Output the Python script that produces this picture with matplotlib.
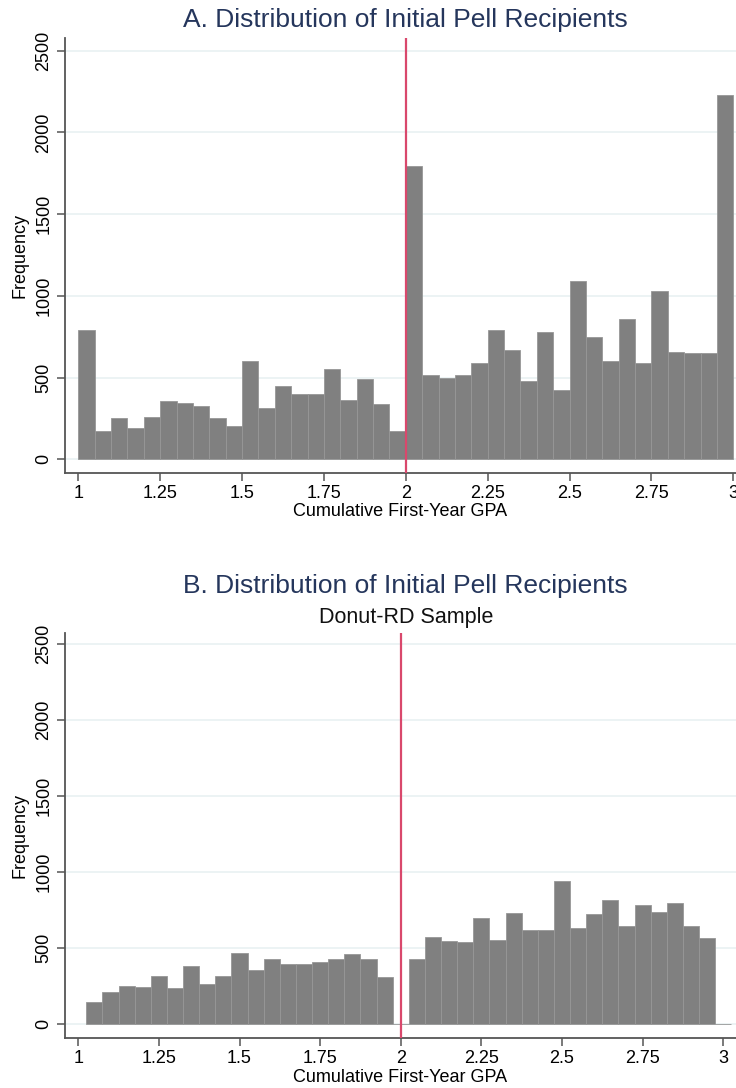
import numpy as np
import matplotlib
matplotlib.use('Agg')
import matplotlib.pyplot as plt

plt.rcParams['font.family'] = ['Liberation Sans', 'DejaVu Sans']

# histogram bins (left edges) and counts
bins_a = np.round(np.arange(1.0, 3.0, 0.05), 3)
freq_a = [792, 175, 251, 194, 261, 357, 347, 324, 251, 202,
          602, 316, 447, 398, 400, 553, 365, 490, 341, 175,
          1795, 516, 500, 516, 588, 792, 669, 481, 781, 424,
          1093, 751, 604, 857, 588, 1030, 659, 653, 653, 2230]

bins_b = np.round(np.arange(1.025, 3.0, 0.05), 3)
freq_b = [145, 215, 252, 243, 320, 241, 384, 268, 320, 469,
          355, 428, 399, 399, 410, 428, 461, 428, 311, 0,
          428, 575, 550, 540, 697, 557, 735, 618, 618, 943,
          636, 724, 820, 645, 785, 741, 796, 645, 566, 0]

bin_width = 0.05
cutoff = 2.0
xticks = [1, 1.25, 1.5, 1.75, 2, 2.25, 2.5, 2.75, 3]
xtick_labels = ['1', '1.25', '1.5', '1.75', '2', '2.25', '2.5', '2.75', '3']
yticks = [0, 500, 1000, 1500, 2000, 2500]

title_a = 'A. Distribution of Initial Pell Recipients'
title_b = 'B. Distribution of Initial Pell Recipients'
subtitle_b = 'Donut-RD Sample'

BAR = '#808080'
BAR_EDGE = '#979797'
RED = '#d9486c'
NAVY = '#25365c'
AXIS = '#555555'
GRID = '#eaf2f3'

W, H = 736, 1088


def draw_hist(ax, bins, freq, xlim, ylim, label_y):
    ax.bar(bins, freq, width=bin_width, align='edge', color=BAR,
           edgecolor=BAR_EDGE, linewidth=0.6, zorder=2)
    ax.axvline(cutoff, color=RED, linewidth=1.6, zorder=3)
    ax.set_xlim(*xlim)
    ax.set_ylim(*ylim)
    ax.set_xticks(xticks)
    ax.set_xticklabels(xtick_labels)
    ax.set_yticks(yticks)
    ax.set_yticklabels([str(v) for v in yticks], rotation=90, va='center')
    ax.grid(axis='y', color=GRID, linewidth=1.3)
    ax.set_axisbelow(True)
    for s in ['top', 'right']:
        ax.spines[s].set_visible(False)
    for s in ['left', 'bottom']:
        ax.spines[s].set_color(AXIS)
        ax.spines[s].set_linewidth(1.3)
    ax.tick_params(direction='out', length=6, width=1.1, color=AXIS,
                   labelsize=13, pad=3)
    ax.set_ylabel('Frequency', fontsize=13, va='center')
    ax.yaxis.set_label_coords(-45 / 671, 0.5)
    ax.set_xlabel('Cumulative First-Year GPA', fontsize=13, va='center')
    ax.xaxis.set_label_coords(0.5, label_y)


fig = plt.figure(figsize=(W / 100, H / 100), dpi=100)

ax1 = fig.add_axes([65 / W, 1 - 472.7 / H, 671 / W, 435 / H])
draw_hist(ax1, bins_a, freq_a, (0.9594, 3.0083), (-82, 2580), -39.3 / 435)

ax2 = fig.add_axes([65 / W, 1 - 1037.7 / H, 671 / W, 405 / H])
draw_hist(ax2, bins_b, freq_b, (0.9588, 3.0394), (-88, 2576), -40 / 405)

fig.text(405 / W, 1 - 27.3 / H, title_a, ha='center', va='baseline',
         fontsize=19, color=NAVY)
fig.text(405 / W, 1 - 593.3 / H, title_b, ha='center', va='baseline',
         fontsize=19, color=NAVY)
fig.text(406 / W, 1 - 623.3 / H, subtitle_b, ha='center', va='baseline',
         fontsize=15.5, color='#111111')

fig.savefig('out.png', dpi=100)
